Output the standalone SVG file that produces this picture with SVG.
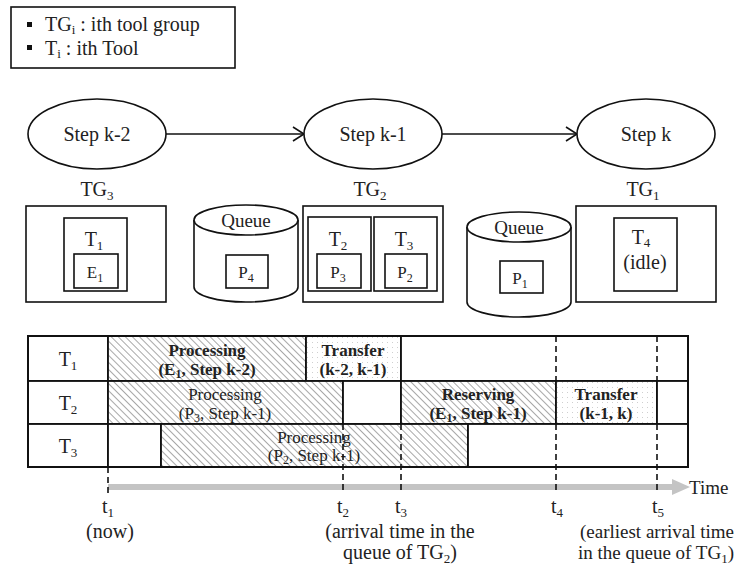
<svg xmlns="http://www.w3.org/2000/svg" width="741" height="566" viewBox="0 0 741 566" font-family="'Liberation Serif', 'Times New Roman', 'DejaVu Serif', serif">
<defs>
<style>
text{font-family:'Liberation Serif','Times New Roman','DejaVu Serif',serif;fill:#222;}
.t20{font-size:20px;}
.t19{font-size:19px;}
.t17{font-size:17px;}
.b{font-weight:bold;}
.mid{text-anchor:middle;}
.sub{font-size:13px;}
.sub2{font-size:12px;}
.ln{fill:none;stroke:#111;stroke-width:1.6;}
.box{fill:#fff;stroke:#111;stroke-width:1.6;}
.cell{stroke:#111;stroke-width:1.8;}
.dash{stroke:#111;stroke-width:1.6;stroke-dasharray:6,4;fill:none;}
</style>
<pattern id="hatch" width="5" height="5" patternUnits="userSpaceOnUse" patternTransform="rotate(-45)">
<rect width="5" height="5" fill="#fff"/>
<line x1="0" y1="0" x2="0" y2="5" stroke="#a8a8a8" stroke-width="2"/>
</pattern>
<pattern id="dots" width="5" height="5" patternUnits="userSpaceOnUse">
<rect width="5" height="5" fill="#fff"/>
<rect x="2" y="2" width="1" height="1" fill="#cfcfcf"/>
</pattern>
<marker id="open" markerWidth="14" markerHeight="16" refX="12" refY="8" orient="auto" markerUnits="userSpaceOnUse">
<path d="M1,1 L12,8 L1,15" fill="none" stroke="#111" stroke-width="1.6"/>
</marker>
</defs>
<rect width="741" height="566" fill="#fff"/>

<g id="legend">
<rect x="11" y="7" width="224" height="61" class="box"/>
<rect x="27" y="22" width="5" height="5" fill="#111"/>
<rect x="27" y="45" width="5" height="5" fill="#111"/>
<text x="45" y="31" class="t20">TG<tspan class="sub" dy="3">i</tspan><tspan dy="-3"> : ith tool group</tspan></text>
<text x="45" y="55" class="t20">T<tspan class="sub" dy="3">i</tspan><tspan dy="-3"> : ith Tool</tspan></text>
</g>

<g id="connectors">
<line x1="166" y1="134" x2="304" y2="134" class="ln" marker-end="url(#open)"/>
<line x1="442" y1="134" x2="577" y2="134" class="ln" marker-end="url(#open)"/>
</g>

<g id="step-k-2">
<ellipse cx="97" cy="134" rx="69" ry="35" class="box"/>
<text x="97" y="141" class="t20 mid">Step k-2</text>
</g>
<g id="step-k-1">
<ellipse cx="373" cy="134" rx="69" ry="35" class="box"/>
<text x="373" y="141" class="t20 mid">Step k-1</text>
</g>
<g id="step-k">
<ellipse cx="646" cy="134" rx="69" ry="35" class="box"/>
<text x="646" y="141" class="t20 mid">Step k</text>
</g>

<g id="tg3">
<text x="97" y="196" class="t20 mid">TG<tspan class="sub" dy="4">3</tspan></text>
<rect x="26" y="206" width="140" height="96" class="box"/>
<rect x="64" y="218" width="63" height="73" class="box"/>
<text x="94" y="246" class="t20 mid">T<tspan class="sub" dy="4">1</tspan></text>
<rect x="74" y="254" width="44" height="34" class="box"/>
<text x="95" y="278" class="t17 mid">E<tspan class="sub2" dy="4">1</tspan></text>
</g>

<g id="queue-tg2">
<path d="M194,220 L194,287 A52,15 0 0 0 298,287 L298,220" class="box"/>
<ellipse cx="246" cy="220" rx="52" ry="15" class="box"/>
<text x="246" y="227" class="t19 mid">Queue</text>
<rect x="226" y="255" width="42" height="33" class="box"/>
<text x="246" y="278" class="t17 mid">P<tspan class="sub2" dy="4">4</tspan></text>
</g>

<g id="tg2">
<text x="370" y="196" class="t20 mid">TG<tspan class="sub" dy="4">2</tspan></text>
<rect x="303" y="206" width="140" height="96" class="box"/>
<rect x="308" y="217" width="63" height="74" class="box"/>
<text x="338" y="246" class="t20 mid">T<tspan class="sub" dy="4">2</tspan></text>
<rect x="317" y="254" width="44" height="34" class="box"/>
<text x="338" y="278" class="t17 mid">P<tspan class="sub2" dy="4">3</tspan></text>
<rect x="374" y="217" width="63" height="74" class="box"/>
<text x="404" y="246" class="t20 mid">T<tspan class="sub" dy="4">3</tspan></text>
<rect x="385" y="254" width="42" height="34" class="box"/>
<text x="405" y="278" class="t17 mid">P<tspan class="sub2" dy="4">2</tspan></text>
</g>

<g id="queue-tg1">
<path d="M467,227 L467,302 A52,15 0 0 0 571,302 L571,227" class="box"/>
<ellipse cx="519" cy="227" rx="52" ry="15" class="box"/>
<text x="519" y="234" class="t19 mid">Queue</text>
<rect x="500" y="261" width="43" height="32" class="box"/>
<text x="520" y="284" class="t17 mid">P<tspan class="sub2" dy="4">1</tspan></text>
</g>

<g id="tg1">
<text x="643" y="196" class="t20 mid">TG<tspan class="sub" dy="4">1</tspan></text>
<rect x="576" y="206" width="140" height="96" class="box"/>
<rect x="614" y="218" width="63" height="73" class="box"/>
<text x="641" y="244" class="t20 mid">T<tspan class="sub" dy="3">4</tspan></text>
<text x="645" y="269" class="t20 mid">(idle)</text>
</g>

<g id="timeline">
<g id="row-t1">
<rect x="28" y="336" width="80" height="45" fill="#fff" class="cell"/>
<rect x="108" y="336" width="198" height="45" fill="url(#hatch)" class="cell"/>
<rect x="306" y="336" width="95" height="45" fill="url(#dots)" class="cell"/>
<rect x="401" y="336" width="287" height="45" fill="#fff" class="cell"/>
</g>
<g id="row-t2">
<rect x="28" y="381" width="80" height="43" fill="#fff" class="cell"/>
<rect x="108" y="381" width="235" height="43" fill="url(#hatch)" class="cell"/>
<rect x="343" y="381" width="58" height="43" fill="#fff" class="cell"/>
<rect x="401" y="381" width="155" height="43" fill="url(#hatch)" class="cell"/>
<rect x="556" y="381" width="101" height="43" fill="url(#dots)" class="cell"/>
<rect x="657" y="381" width="31" height="43" fill="#fff" class="cell"/>
</g>
<g id="row-t3">
<rect x="28" y="424" width="80" height="43" fill="#fff" class="cell"/>
<rect x="108" y="424" width="53" height="43" fill="#fff" class="cell"/>
<rect x="161" y="424" width="307" height="43" fill="url(#hatch)" class="cell"/>
<rect x="468" y="424" width="220" height="43" fill="#fff" class="cell"/>
</g>
<rect x="28" y="336" width="660" height="131" fill="none" stroke="#111" stroke-width="2"/>

<text x="68" y="366" class="t20 mid">T<tspan class="sub" dy="4">1</tspan></text>
<text x="68" y="410" class="t20 mid">T<tspan class="sub" dy="4">2</tspan></text>
<text x="68" y="453" class="t20 mid">T<tspan class="sub" dy="4">3</tspan></text>

<text x="207" y="356" class="t17 mid b">Processing</text>
<text x="207" y="375" class="t17 mid b">(E<tspan class="sub2" dy="3">1</tspan><tspan dy="-3">, Step k-2)</tspan></text>
<text x="353" y="356" class="t17 mid b">Transfer</text>
<text x="353" y="375" class="t17 mid b">(k-2, k-1)</text>

<text x="225" y="400" class="t17 mid">Processing</text>
<text x="225" y="419" class="t17 mid">(P<tspan class="sub2" dy="3">3</tspan><tspan dy="-3">, Step k-1)</tspan></text>
<text x="478" y="400" class="t17 mid b">Reserving</text>
<text x="478" y="419" class="t17 mid b">(E<tspan class="sub2" dy="3">1</tspan><tspan dy="-3">, Step k-1)</tspan></text>
<text x="606" y="400" class="t17 mid b">Transfer</text>
<text x="606" y="419" class="t17 mid b">(k-1, k)</text>

<text x="314" y="443" class="t17 mid">Processing</text>
<text x="314" y="461" class="t17 mid">(P<tspan class="sub2" dy="3">2</tspan><tspan dy="-3">, Step k-1)</tspan></text>

<line x1="108" y1="487" x2="674" y2="487" stroke="#c4c4c4" stroke-width="6"/>
<polygon points="672,479 690,487 672,495" fill="#c4c4c4"/>
<text x="689" y="494" class="t19">Time</text>

<path d="M343,424 V494 M401,424 V494 M556,336 V381 M556,424 V494 M657,336 V381 M657,424 V494 M108,467 V494" class="dash"/>

<text x="108" y="513" class="t20 mid">t<tspan class="sub" dy="4">1</tspan></text>
<text x="110" y="538" class="t20 mid">(now)</text>
<text x="343" y="513" class="t20 mid">t<tspan class="sub" dy="4">2</tspan></text>
<text x="401" y="513" class="t20 mid">t<tspan class="sub" dy="4">3</tspan></text>
<text x="557" y="513" class="t20 mid">t<tspan class="sub" dy="4">4</tspan></text>
<text x="658" y="513" class="t20 mid">t<tspan class="sub" dy="4">5</tspan></text>
<text x="400" y="538" class="t20 mid">(arrival time in the</text>
<text x="400" y="559" class="t20 mid">queue of TG<tspan class="sub" dy="4">2</tspan><tspan dy="-4">)</tspan></text>
<text x="657" y="538" class="t19 mid">(earliest arrival time</text>
<text x="656" y="559" class="t19 mid">in the queue of TG<tspan class="sub" dy="4">1</tspan><tspan dy="-4">)</tspan></text>
</g>
</svg>
